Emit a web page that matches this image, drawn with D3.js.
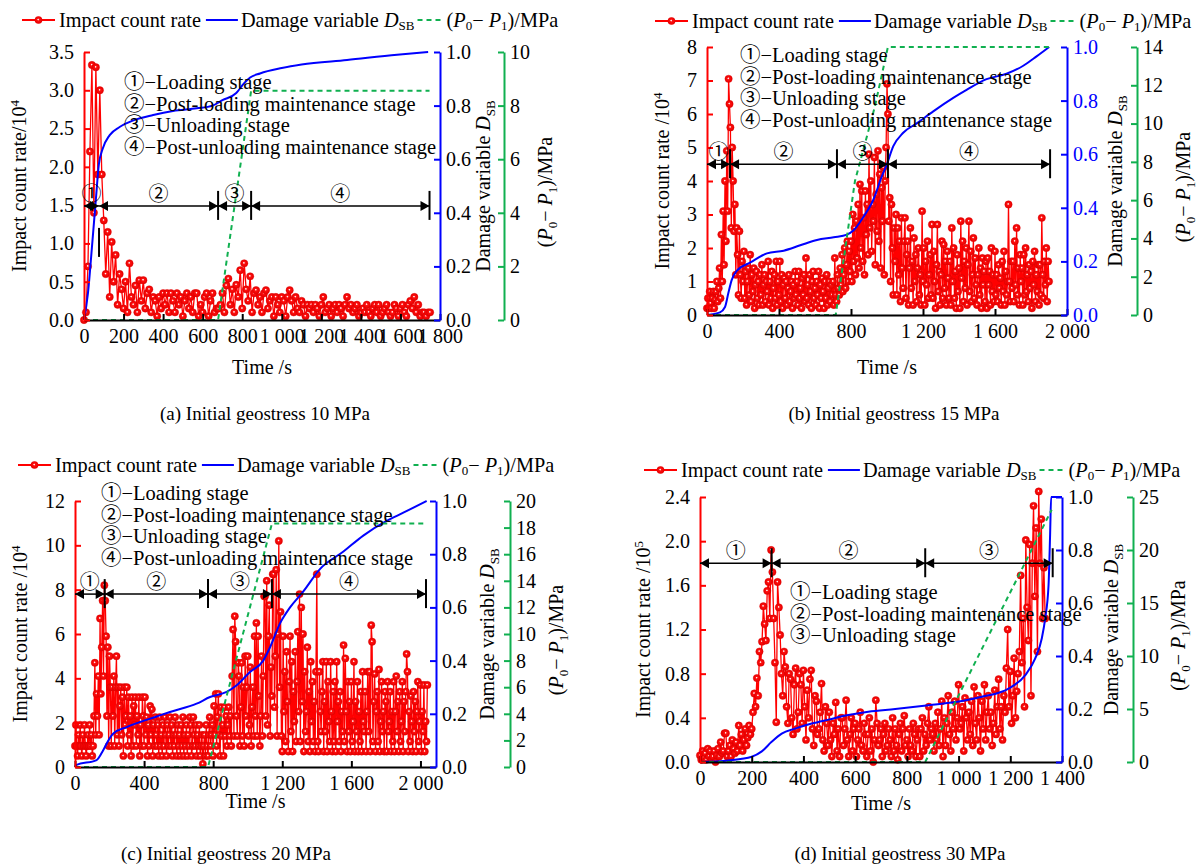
<!DOCTYPE html>
<html>
<head>
<meta charset="utf-8">
<script src="https://cdn.jsdelivr.net/npm/d3@7/dist/d3.min.js"></script>
<style>
  body { margin: 0; background: #fff; }
  svg text { font-family: "Liberation Serif", "Times New Roman", "Noto Sans CJK SC", serif; font-size: 20px; fill: #000; }
</style>
</head>
<body>
<script>
// impact count rate, (a) one value every 10 s, (b)-(d) one value every 5 s
const rateA = [
  0, 0.1, 0.7, 2.2, 3.33, 1.4, 3.3, 1.9, 3.0, 1.9,
  1.3, 0.6, 1.15, 0.3, 1.02, 0.5, 0.85, 0.2, 0.6, 0.4,
  0.15, 0.5, 0.1, 0.74, 0.3, 0.2, 0.45, 0.1, 0.52, 0.25,
  0.52, 0.15, 0.35, 0.4, 0.1, 0.3, 0.25, 0.05, 0.3, 0.15,
  0.35, 0.2, 0.35, 0.1, 0.35, 0.25, 0.1, 0.35, 0.2, 0.3,
  0.05, 0.25, 0.35, 0.15, 0.3, 0.1, 0.35, 0.35, 0.05, 0.2,
  0.1, 0.3, 0.35, 0.05, 0.25, 0.35, 0.1, 0.15, 0.15, 0.2,
  0.35, 0.1, 0.45, 0.54, 0.2, 0.4, 0.1, 0.46, 0.3, 0.65,
  0.15, 0.74, 0.4, 0.25, 0.57, 0.1, 0.35, 0.39, 0.2, 0.3,
  0.1, 0.35, 0.39, 0.15, 0.25, 0.3, 0.05, 0.3, 0.2, 0.1,
  0.3, 0.25, 0.05, 0.3, 0.39, 0.25, 0.1, 0.3, 0.15, 0.1,
  0.25, 0.2, 0.05, 0.2, 0.15, 0.2, 0.1, 0.2, 0.15, 0.05,
  0.2, 0.3, 0.1, 0.15, 0.2, 0.05, 0.15, 0.2, 0.1, 0.2,
  0.15, 0.05, 0.2, 0.3, 0.15, 0.2, 0.1, 0.15, 0.2, 0.05,
  0.1, 0.15, 0.1, 0.2, 0.1, 0.05, 0.15, 0.2, 0.1, 0.2,
  0.05, 0.1, 0.15, 0.2, 0.1, 0.05, 0.1, 0.2, 0.15, 0.05,
  0.15, 0.2, 0.1, 0.05, 0.2, 0.25, 0.15, 0.3, 0.1, 0.2,
  0.05, 0.1, 0.1, 0.05, 0.1, 0.1
];
const rateB = [
  0.2, 0.5, 0.2, 0.7, 0.35, 0.2, 0.5, 0.7, 0.2, 0.45,
  0.7, 1.0, 0.4, 0.8, 1.4, 0.5, 2.4, 1.0, 3.1, 1.5,
  4.0, 2.2, 4.9, 3.1, 7.05, 6.3, 5.6, 2.6, 5.0, 4.0,
  2.5, 3.3, 1.2, 2.6, 1.8, 0.6, 2.5, 1.2, 0.5, 1.6,
  1.0, 1.9, 0.5, 1.3, 0.3, 1.0, 1.4, 0.6, 1.8, 0.4,
  1.2, 0.7, 1.4, 0.2, 0.9, 1.3, 0.5, 1.0, 0.3, 1.2,
  0.6, 1.5, 0.3, 0.9, 1.2, 0.4, 1.0, 0.7, 1.6, 0.3,
  1.0, 0.5, 1.3, 0.2, 0.8, 1.2, 0.5, 1.6, 0.3, 1.0,
  0.6, 1.6, 0.4, 1.2, 0.2, 0.9, 1.1, 0.5, 1.0, 0.3,
  0.8, 1.2, 0.4, 0.7, 1.0, 0.2, 0.9, 0.5, 1.3, 0.6,
  1.0, 0.3, 1.3, 0.5, 0.8, 0.2, 1.1, 0.6, 1.2, 0.4,
  1.7, 0.5, 0.9, 0.3, 1.2, 0.7, 0.2, 1.0, 1.3, 0.5,
  0.8, 0.3, 1.0, 0.6, 1.3, 0.2, 0.9, 0.5, 1.1, 0.7,
  0.2, 1.0, 0.5, 1.2, 0.3, 0.8, 1.0, 0.4, 0.9, 0.6,
  1.0, 0.3, 1.7, 0.6, 0.4, 1.2, 0.8, 0.6, 1.4, 0.9,
  1.8, 0.7, 1.2, 2.0, 0.8, 1.5, 2.2, 1.0, 1.9, 1.3,
  2.2, 1.0, 3.0, 1.6, 2.6, 1.2, 2.8, 1.7, 3.3, 1.4,
  3.9, 2.0, 3.7, 1.6, 2.9, 1.2, 3.7, 2.4, 3.3, 1.8,
  4.8, 2.6, 4.0, 1.9, 3.3, 2.8, 4.7, 1.5, 3.6, 2.5,
  4.9, 2.2, 4.2, 1.4, 3.8, 2.8, 4.4, 1.2, 4.0, 5.0,
  6.9, 6.0, 2.8, 3.5, 1.0, 3.3, 2.0, 0.6, 2.6, 1.6,
  3.0, 0.6, 2.6, 1.2, 2.2, 0.4, 2.9, 1.4, 0.8, 2.2,
  2.9, 0.5, 1.8, 2.2, 0.3, 1.4, 2.6, 0.8, 1.6, 0.3,
  2.3, 1.0, 1.8, 0.4, 1.4, 2.0, 0.6, 1.2, 0.3, 3.1,
  1.0, 2.0, 0.3, 1.6, 0.9, 2.2, 0.5, 1.2, 1.8, 0.6,
  2.7, 0.5, 1.9, 1.0, 0.2, 1.5, 2.7, 0.7, 1.3, 0.3,
  1.2, 2.2, 0.5, 2.1, 0.8, 1.6, 0.3, 1.9, 1.1, 0.5,
  1.6, 0.3, 2.6, 1.0, 2.0, 0.5, 1.3, 0.2, 1.8, 0.7,
  1.4, 0.2, 2.8, 1.1, 2.2, 0.4, 1.6, 0.8, 2.0, 0.3,
  1.5, 2.8, 0.7, 1.9, 0.4, 1.2, 2.3, 0.5, 1.7, 0.9,
  0.3, 1.2, 2.0, 0.6, 1.4, 0.2, 1.7, 0.9, 1.3, 0.4,
  1.6, 0.2, 1.7, 0.9, 1.3, 0.3, 2.0, 0.7, 1.2, 0.4,
  1.9, 0.6, 1.2, 0.4, 1.5, 0.8, 1.1, 0.3, 1.6, 0.7,
  1.9, 0.3, 1.3, 0.6, 1.0, 3.3, 1.0, 0.4, 1.6, 0.8,
  1.6, 0.4, 2.2, 0.9, 2.6, 0.6, 1.4, 0.3, 1.8, 1.0,
  1.4, 0.3, 1.8, 0.6, 2.0, 0.7, 1.2, 0.4, 1.5, 0.8,
  1.3, 0.2, 1.6, 0.9, 1.9, 0.4, 1.2, 0.7, 1.5, 0.3,
  1.5, 0.6, 2.9, 1.2, 0.5, 1.6, 0.9, 2.0, 0.4, 1.6,
  1.0
];
const rateC = [
  0.95, 1.9, 0.95, 0.5, 1.45, 0.95, 1.9, 0.95, 0.5, 1.45,
  0.95, 1.9, 0.95, 0.5, 0.95, 1.45, 0.95, 1.9, 0.95, 1.45,
  0.5, 0.95, 2.3, 4.7, 1.45, 3.3, 2.3, 4.1, 1.45, 6.7,
  3.3, 5.4, 7.5, 4.1, 8.2, 7.5, 5.9, 2.3, 5.4, 0.95,
  5.0, 3.6, 0.95, 3.6, 2.3, 4.1, 0.95, 3.6, 5.0, 1.45,
  3.6, 0.95, 2.75, 3.6, 1.45, 3.15, 0.5, 3.6, 1.9, 2.3,
  3.6, 0.95, 3.15, 1.45, 2.3, 0.5, 3.15, 0.95, 2.75, 1.9,
  3.15, 0.95, 2.3, 1.45, 3.15, 0.5, 1.9, 0.95, 3.15, 2.3,
  0.95, 3.15, 1.45, 2.25, 0.5, 1.9, 0.95, 2.75, 1.45, 2.6,
  0.5, 1.9, 0.95, 2.25, 1.45, 0.95, 1.9, 0.5, 2.25, 0.95,
  1.45, 0.5, 1.9, 0.95, 2.25, 1.45, 0.5, 1.9, 0.95, 1.45,
  2.25, 0.95, 1.9, 0.5, 1.45, 0.95, 2.25, 1.45, 0.5, 1.9,
  0.95, 1.45, 0.5, 1.9, 0.95, 2.25, 0.5, 1.45, 0.95, 1.9,
  0.5, 1.45, 0.95, 2.25, 1.9, 0.5, 0.95, 2.25, 1.45, 0.95,
  1.9, 0.5, 1.45, 0.95, 1.9, 0.5, 0.95, 1.45, 0.14, 0.95,
  1.45, 0.5, 1.9, 0.95, 0.5, 1.45, 2.25, 0.95, 1.45, 1.9,
  0.5, 2.75, 1.45, 3.3, 0.95, 2.25, 3.3, 1.45, 0.5, 2.7,
  1.4, 1.9, 0.5, 2.7, 1.4, 2.3, 0.95, 1.9, 2.7, 1.4,
  2.3, 0.95, 4.1, 6.2, 1.4, 6.8, 5.65, 2.3, 1.4, 4.7,
  4.1, 0.95, 2.7, 4.7, 1.4, 3.6, 0.95, 5.0, 2.3, 3.6,
  5.0, 1.4, 1.9, 4.5, 0.95, 2.7, 3.6, 1.4, 5.9, 2.3,
  6.5, 1.4, 5.9, 3.2, 0.95, 2.3, 5.0, 1.4, 4.1, 7.7,
  7.7, 2.3, 8.4, 1.9, 5.9, 7.3, 1.4, 4.5, 3.2, 8.7,
  8.7, 2.7, 5.0, 8.9, 1.4, 6.0, 10.2, 3.6, 7.0, 1.4,
  0.7, 5.9, 2.5, 4.3, 1.15, 5.2, 2.95, 0.7, 3.85, 5.9,
  1.6, 4.75, 0.7, 3.4, 2.05, 5.2, 1.15, 3.85, 6.1, 2.5,
  7.8, 1.15, 7.2, 2.95, 6.0, 0.7, 4.3, 1.6, 2.5, 5.4,
  1.15, 3.4, 0.7, 4.75, 2.05, 3.85, 1.15, 2.95, 0.7, 4.3,
  8.7, 1.15, 0.7, 4.3, 2.5, 1.6, 3.4, 4.75, 0.7, 2.95,
  1.6, 4.75, 0.7, 3.85, 2.05, 1.15, 4.75, 2.5, 0.7, 3.4,
  1.15, 3.85, 0.7, 4.75, 2.05, 2.95, 1.15, 3.4, 0.7, 2.5,
  1.6, 5.5, 1.15, 4.9, 2.5, 0.7, 3.85, 1.6, 2.95, 0.7,
  3.85, 1.15, 2.05, 4.75, 0.7, 2.95, 1.6, 3.85, 0.7, 2.5,
  1.15, 3.4, 0.7, 4.3, 2.05, 1.6, 3.4, 0.7, 2.5, 4.3,
  1.6, 4.3, 0.7, 6.4, 5.65, 1.15, 2.95, 4.2, 0.7, 2.5,
  3.4, 1.15, 4.4, 0.7, 2.05, 3.85, 1.6, 2.5, 0.7, 3.4,
  2.95, 0.7, 3.85, 1.6, 2.05, 3.4, 0.7, 2.5, 1.15, 3.85,
  0.7, 2.5, 4.1, 1.6, 2.95, 0.7, 3.4, 1.15, 2.05, 3.85,
  0.7, 2.95, 1.6, 3.4, 5.1, 4.3, 0.7, 2.5, 1.15, 3.2,
  2.05, 0.7, 3.4, 1.6, 2.95, 0.7, 2.5, 3.85, 1.15, 2.05,
  3.7, 0.7, 2.5, 1.6, 3.7, 0.7, 2.05, 1.15, 3.7
];
const rateD = [
  0.06, 0.02, 0.1, 0.04, 0.08, 0.02, 0.12, 0.05, 0.1, 0.03,
  0.05, 0.1, 0.0, 0.06, 0.12, 0.05, 0.18, 0.08, 0.1, 0.26,
  0.26, 0.05, 0.1, 0.15, 0.05, 0.2, 0.12, 0.08, 0.18, 0.1,
  0.33, 0.15, 0.25, 0.1, 0.2, 0.3, 0.15, 0.22, 0.33, 0.25,
  0.3, 0.45, 0.62, 0.5, 0.76, 0.6, 1.0, 0.9, 1.09, 1.41,
  1.25, 1.1, 1.55, 1.63, 1.3, 1.92, 1.72, 1.3, 0.9, 0.36,
  1.63, 1.4, 1.15, 0.8, 0.6, 1.0, 0.86, 0.5, 0.35, 0.8,
  0.75, 0.4, 0.25, 0.7, 0.85, 0.3, 0.45, 0.8, 0.7, 0.35,
  0.83, 0.5, 0.2, 0.65, 0.4, 0.75, 0.83, 0.3, 0.15, 0.6,
  0.55, 0.25, 0.3, 0.45, 0.71, 0.2, 0.1, 0.5, 0.35, 0.15,
  0.45, 0.2, 0.05, 0.35, 0.25, 0.54, 0.1, 0.3, 0.05, 0.4,
  0.4, 0.15, 0.3, 0.56, 0.2, 0.05, 0.25, 0.4, 0.1, 0.3,
  0.35, 0.05, 0.2, 0.3, 0.45, 0.15, 0.1, 0.35, 0.25, 0.05,
  0.25, 0.4, 0.1, 0.3, 0.0, 0.2, 0.56, 0.35, 0.15, 0.2,
  0.3, 0.05, 0.25, 0.35, 0.1, 0.15, 0.3, 0.2, 0.05, 0.4,
  0.1, 0.3, 0.15, 0.02, 0.25, 0.35, 0.1, 0.3, 0.42, 0.15,
  0.2, 0.05, 0.3, 0.15, 0.1, 0.35, 0.25, 0.05, 0.2, 0.3,
  0.05, 0.3, 0.4, 0.1, 0.25, 0.15, 0.35, 0.5, 0.2, 0.3,
  0.25, 0.1, 0.35, 0.2, 0.45, 0.15, 0.3, 0.55, 0.05, 0.4,
  0.15, 0.35, 0.6, 0.25, 0.1, 0.45, 0.3, 0.55, 0.2, 0.4,
  0.7, 0.3, 0.35, 0.5, 0.1, 0.58, 0.4, 0.2, 0.45, 0.25,
  0.55, 0.15, 0.68, 0.35, 0.2, 0.6, 0.4, 0.1, 0.55, 0.3,
  0.7, 0.2, 0.45, 0.6, 0.3, 0.45, 0.15, 0.35, 0.65, 0.25,
  0.5, 0.75, 0.3, 0.5, 0.2, 0.6, 0.45, 0.85, 1.2, 0.5,
  0.82, 0.35, 0.6, 0.94, 0.4, 0.64, 0.8, 1.0, 1.69, 0.9,
  1.3, 0.5, 2.01, 1.4, 1.1, 1.97, 0.6, 1.8, 2.32, 1.5,
  2.12, 1.0, 2.45, 1.8, 2.2, 1.3, 1.76, 1.3
];

// damage variable D_SB, [time s, value]
const damageA = [[0, 0], [20, 0.1], [40, 0.27], [60, 0.45], [75, 0.58], [95, 0.64], [130, 0.69], [180, 0.72],
  [250, 0.745], [350, 0.765], [450, 0.78], [570, 0.79], [650, 0.8], [700, 0.82], [770, 0.847], [810, 0.884],
  [840, 0.905], [890, 0.92], [1000, 0.94], [1100, 0.953], [1330, 0.97], [1583, 0.99], [1740, 1.0]];
const damageB = [[0, 0], [72, 0.01], [100, 0.03], [118, 0.08], [137, 0.13], [165, 0.165], [241, 0.196],
  [333, 0.23], [426, 0.24], [518, 0.26], [611, 0.28], [704, 0.29], [778, 0.3], [813, 0.315], [868, 0.365],
  [924, 0.43], [970, 0.515], [998, 0.56], [1035, 0.63], [1090, 0.68], [1165, 0.715], [1257, 0.76],
  [1368, 0.81], [1442, 0.84], [1553, 0.88], [1664, 0.9], [1757, 0.93], [1831, 0.965], [1901, 1.0]];
const damageC = [[0, 0], [6, 0.007], [125, 0.026], [164, 0.064], [193, 0.1], [222, 0.126], [299, 0.15],
  [473, 0.19], [550, 0.207], [704, 0.238], [782, 0.263], [878, 0.282], [936, 0.307], [1013, 0.357],
  [1090, 0.4], [1129, 0.45], [1187, 0.54], [1245, 0.6], [1322, 0.66], [1418, 0.744], [1554, 0.81],
  [1669, 0.87], [1804, 0.925], [1901, 0.956], [2036, 1.0]];
const damageD = [[0, 0], [110, 0.006], [200, 0.02], [239, 0.04], [277, 0.076], [316, 0.107], [368, 0.126],
  [432, 0.145], [497, 0.16], [574, 0.177], [651, 0.19], [755, 0.2], [884, 0.214], [1013, 0.23],
  [1090, 0.246], [1193, 0.277], [1258, 0.328], [1296, 0.39], [1322, 0.467], [1335, 0.542], [1348, 0.668],
  [1354, 0.857], [1358, 1.0], [1400, 1.0]];

// stress difference (P0 - P1) in MPa, [time s, value]
const pressA = [[0, 0], [678, 0], [845, 8.55], [1747, 8.55]];
const pressB = [[0, 0], [715, 0], [822, 7.0], [933, 10.9], [1005, 14], [1906, 14]];
const pressC = [[0, 0], [770, 0], [1140, 18.3], [2020, 18.3]];
const pressD = [[0, 0], [871, 0], [1360, 23.8]];

// stage boundaries (s)
const stagesA = [0, 76, 678, 845, 1747];
const stagesB = [0, 128, 722, 1005, 1906];
const stagesC = [0, 172, 770, 1140, 2032];
const stagesD = [0, 277, 871, 1364];

// tick labels
const timeTicksA = [0, 200, 400, 600, 800, 1000, 1200, 1400, 1600, 1800];
const timeTicksB = [0, 400, 800, 1200, 1600, 2000];
const timeTicksC = [0, 400, 800, 1200, 1600, 2000];
const timeTicksD = [0, 200, 400, 600, 800, 1000, 1200, 1400];
const rateTicksA = [0, 0.5, 1.0, 1.5, 2.0, 2.5, 3.0, 3.5];
const rateTicksB = [0, 1, 2, 3, 4, 5, 6, 7, 8];
const rateTicksC = [0, 2, 4, 6, 8, 10, 12];
const rateTicksD = [0, 0.4, 0.8, 1.2, 1.6, 2.0, 2.4];
const damageTicks = [0, 0.2, 0.4, 0.6, 0.8, 1.0];
const pressTicksA = [0, 2, 4, 6, 8, 10];
const pressTicksB = [0, 2, 4, 6, 8, 10, 12, 14];
const pressTicksC = [0, 2, 4, 6, 8, 10, 12, 14, 16, 18, 20];
const pressTicksD = [0, 5, 10, 15, 20, 25];

const stageMarks = ['①', '②', '③', '④'];
const stageNotes = ['①−Loading stage', '②−Post-loading maintenance stage', '③−Unloading stage',
  '④−Post-unloading maintenance stage'];
const captions = ['(a) Initial geostress 10 MPa', '(b) Initial geostress 15 MPa',
  '(c) Initial geostress 20 MPa', '(d) Initial geostress 30 MPa'];

const RED = '#ff0000';
const BLUE = '#0000ff';
const GREEN = '#10b050';

// panel layout
const panels = [
  { rate: rateA, dt: 10, damage: damageA, press: pressA, stages: stagesA, tTicks: timeTicksA, rTicks: rateTicksA,
    pTicks: pressTicksA, rFmt: '.1f', tMax: 1800, rMax: 3.5, pMax: 10,
    left: 84, right: 440, top: 52, bottom: 320, green: 504,
    arrowAt: 1.49, firstBarDrop: 37, noteX: 124, noteY: 82, notes: 4,
    legendX: 22, legendY: 20, leftTitleX: 26, damTitleX: 490, pTitleX: 552, exp: '4', unitGap: '',
    xTitleY: 374, captionX: 265, captionY: 420, caption: captions[0], blueLabels: '#000' },
  { rate: rateB, dt: 5, damage: damageB, press: pressB, stages: stagesB, tTicks: timeTicksB, rTicks: rateTicksB,
    pTicks: pressTicksB, rFmt: 'd', tMax: 2000, rMax: 8, pMax: 14,
    left: 707, right: 1067, top: 47, bottom: 315, green: 1137,
    arrowAt: 4.5, firstBarDrop: 0, noteX: 740, noteY: 55, notes: 4,
    legendX: 655, legendY: 21, leftTitleX: 669, damTitleX: 1122, pTitleX: 1190, exp: '4', unitGap: ' ',
    xTitleY: 374, captionX: 894, captionY: 420, caption: captions[1], blueLabels: BLUE },
  { rate: rateC, dt: 5, damage: damageC, press: pressC, stages: stagesC, tTicks: timeTicksC, rTicks: rateTicksC,
    pTicks: pressTicksC, rFmt: 'd', tMax: 2090, rMax: 12, pMax: 20,
    left: 75, right: 436, top: 501, bottom: 767, green: 510,
    arrowAt: 7.8, firstBarDrop: 0, noteX: 101, noteY: 493, notes: 4,
    legendX: 18, legendY: 465, leftTitleX: 27, damTitleX: 494, pTitleX: 563, exp: '4', unitGap: ' ',
    xTitleY: 808, captionX: 226, captionY: 860, caption: captions[2], blueLabels: '#000' },
  { rate: rateD, dt: 5, damage: damageD, press: pressD, stages: stagesD, tTicks: timeTicksD, rTicks: rateTicksD,
    pTicks: pressTicksD, rFmt: '.1f', tMax: 1400, rMax: 2.4, pMax: 25,
    left: 700, right: 1062, top: 497, bottom: 762, green: 1133,
    arrowAt: 1.8, firstBarDrop: 0, noteX: 790, noteY: 592, notes: 3,
    legendX: 644, legendY: 470, leftTitleX: 650, damTitleX: 1118, pTitleX: 1185, exp: '5', unitGap: ' ',
    xTitleY: 810, captionX: 900, captionY: 860, caption: captions[3], blueLabels: '#000' },
];

const svg = d3.select('body').append('svg')
  .attr('width', 1199)
  .attr('height', 866);

// glossy marker used for the impact count rate points
const grad = svg.append('defs').append('radialGradient')
  .attr('id', 'ball').attr('cx', '50%').attr('cy', '50%').attr('r', '50%').attr('fx', '45%').attr('fy', '42%');
grad.append('stop').attr('offset', '0%').attr('stop-color', '#ffffff');
grad.append('stop').attr('offset', '12%').attr('stop-color', '#ffd8d8');
grad.append('stop').attr('offset', '32%').attr('stop-color', '#ff1010');
grad.append('stop').attr('offset', '100%').attr('stop-color', '#e40000');

// writes mixed italic / subscript / superscript text
function rich(sel, parts) {
  let shift = 0;
  parts.forEach((pt) => {
    const target = pt.sub ? 5 : (pt.sup ? -7 : 0);
    const ts = sel.append('tspan').text(pt.t).attr('dy', target - shift);
    shift = target;
    if (pt.sub || pt.sup) ts.style('font-size', '13px');
    if (pt.it) ts.style('font-style', 'italic');
  });
  return sel;
}

const damageParts = [{ t: 'Damage variable ' }, { t: 'D', it: 1 }, { t: 'SB', sub: 1 }];
const pressParts = [{ t: '(' }, { t: 'P', it: 1 }, { t: '0', sub: 1 }, { t: '− ' }, { t: 'P', it: 1 },
  { t: '1', sub: 1 }, { t: ')/MPa' }];

const timeFmt = d => (d < 1000 ? String(d) : `${Math.floor(d / 1000)} ${String(d % 1000).padStart(3, '0')}`);

function styleAxis(g, color, labelColor) {
  g.select('.domain').attr('stroke', color).attr('stroke-width', 2);
  g.selectAll('.tick line').attr('stroke', color).attr('stroke-width', 2);
  g.selectAll('.tick text').style('fill', labelColor).style('font-size', '20px');
}

function drawPanel(p) {
  const g = svg.append('g');
  const x = d3.scaleLinear().domain([0, p.tMax]).range([p.left, p.right]);
  const yR = d3.scaleLinear().domain([0, p.rMax]).range([p.bottom, p.top]);
  const yD = d3.scaleLinear().domain([0, 1]).range([p.bottom, p.top]);
  const yP = d3.scaleLinear().domain([0, p.pMax]).range([p.bottom, p.top]);

  // impact count rate: line + glossy dots
  const pts = p.rate.map((v, i) => [i * p.dt, v]);
  g.append('path').datum(pts)
    .attr('fill', 'none').attr('stroke', RED).attr('stroke-width', 1.3)
    .attr('d', d3.line().x(d => x(d[0])).y(d => yR(d[1])));
  g.append('g').selectAll('circle').data(pts).join('circle')
    .attr('cx', d => x(d[0])).attr('cy', d => yR(d[1])).attr('r', 3.7)
    .attr('fill', 'url(#ball)').attr('stroke', '#e00000').attr('stroke-width', 0.4);

  // damage variable
  g.append('path').datum(p.damage)
    .attr('fill', 'none').attr('stroke', BLUE).attr('stroke-width', 2)
    .attr('d', d3.line().curve(d3.curveMonotoneX).x(d => x(d[0])).y(d => yD(d[1])));

  // stress difference
  g.append('path').datum(p.press)
    .attr('fill', 'none').attr('stroke', GREEN).attr('stroke-width', 2).attr('stroke-dasharray', '5,4')
    .attr('d', d3.line().x(d => x(d[0])).y(d => yP(d[1])));

  // axes
  const gx = g.append('g').attr('transform', `translate(0,${p.bottom})`)
    .call(d3.axisBottom(x).tickValues(p.tTicks).tickFormat(timeFmt).tickSizeInner(-6).tickSizeOuter(0).tickPadding(9));
  styleAxis(gx, '#000', '#000');
  const gr = g.append('g').attr('transform', `translate(${p.left},0)`)
    .call(d3.axisLeft(yR).tickValues(p.rTicks).tickFormat(d3.format(p.rFmt)).tickSizeInner(-6).tickSizeOuter(0).tickPadding(10));
  styleAxis(gr, RED, '#000');
  const gd = g.append('g').attr('transform', `translate(${p.right},0)`)
    .call(d3.axisRight(yD).tickValues(damageTicks).tickFormat(d3.format('.1f')).tickSizeInner(-6).tickSizeOuter(0).tickPadding(6));
  styleAxis(gd, BLUE, p.blueLabels);
  const gp = g.append('g').attr('transform', `translate(${p.green},0)`)
    .call(d3.axisRight(yP).tickValues(p.pTicks).tickFormat(d3.format('d')).tickSizeInner(-6).tickSizeOuter(0).tickPadding(6));
  styleAxis(gp, GREEN, '#000');

  // stage arrows
  const ay = yR(p.arrowAt);
  const ga = g.append('g');
  p.stages.slice(1).forEach((s, i) => {
    const x0 = x(p.stages[i]);
    const x1 = x(s);
    ga.append('line').attr('x1', x0).attr('x2', x1).attr('y1', ay).attr('y2', ay)
      .attr('stroke', '#000').attr('stroke-width', 1.5);
    ga.append('path').attr('d', `M${x0},${ay}l9,-5v10z`).attr('fill', '#000');
    ga.append('path').attr('d', `M${x1},${ay}l-9,-5v10z`).attr('fill', '#000');
    const drop = i === 0 ? p.firstBarDrop : 0;
    ga.append('line').attr('x1', x1).attr('x2', x1).attr('y1', ay - 15 + drop).attr('y2', ay + 14 + drop)
      .attr('stroke', '#000').attr('stroke-width', 2);
    ga.append('text').attr('x', (x0 + x1) / 2).attr('y', ay - 12)
      .attr('text-anchor', 'middle').attr('dominant-baseline', 'central').text(stageMarks[i]);
  });

  // stage notes
  stageNotes.slice(0, p.notes).forEach((t, i) => {
    g.append('text').attr('x', p.noteX).attr('y', p.noteY + i * 21.5)
      .attr('dominant-baseline', 'central').style('font-size', '20.5px').text(t);
  });

  // legend
  const lg = g.append('g');
  const ly = p.legendY;
  let lx = p.legendX;
  lg.append('line').attr('x1', lx).attr('x2', lx + 33).attr('y1', ly).attr('y2', ly)
    .attr('stroke', RED).attr('stroke-width', 2);
  lg.append('circle').attr('cx', lx + 16.5).attr('cy', ly).attr('r', 3.8).attr('fill', 'url(#ball)');
  let t = lg.append('text').attr('x', lx + 37).attr('y', ly).attr('dominant-baseline', 'central')
    .style('font-size', '20.3px').text('Impact count rate');
  lx += 37 + t.node().getComputedTextLength() + 5;
  lg.append('line').attr('x1', lx).attr('x2', lx + 32).attr('y1', ly).attr('y2', ly)
    .attr('stroke', BLUE).attr('stroke-width', 2);
  t = rich(lg.append('text').attr('x', lx + 35).attr('y', ly).attr('dominant-baseline', 'central')
    .style('font-size', '20.3px'), damageParts);
  lx += 35 + t.node().getComputedTextLength() + 3;
  lg.append('line').attr('x1', lx).attr('x2', lx + 26).attr('y1', ly).attr('y2', ly)
    .attr('stroke', GREEN).attr('stroke-width', 2).attr('stroke-dasharray', '5,4');
  rich(lg.append('text').attr('x', lx + 29).attr('y', ly).attr('dominant-baseline', 'central')
    .style('font-size', '20.3px'), pressParts);

  // axis titles
  const cy = (p.top + p.bottom) / 2;
  rich(g.append('text').attr('text-anchor', 'middle')
    .attr('transform', `translate(${p.leftTitleX},${cy}) rotate(-90)`),
  [{ t: `Impact count rate${p.unitGap}/10` }, { t: p.exp, sup: 1 }]);
  rich(g.append('text').attr('text-anchor', 'middle')
    .attr('transform', `translate(${p.damTitleX},${cy}) rotate(-90)`), damageParts);
  rich(g.append('text').attr('text-anchor', 'middle')
    .attr('transform', `translate(${p.pTitleX},${cy + 6}) rotate(-90)`), pressParts);
  g.append('text').attr('x', (p.left + p.right) / 2).attr('y', p.xTitleY)
    .attr('text-anchor', 'middle').text('Time /s');
  g.append('text').attr('x', p.captionX).attr('y', p.captionY)
    .attr('text-anchor', 'middle').style('font-size', '19px').text(p.caption);
}

panels.forEach(drawPanel);
</script>
</body>
</html>
